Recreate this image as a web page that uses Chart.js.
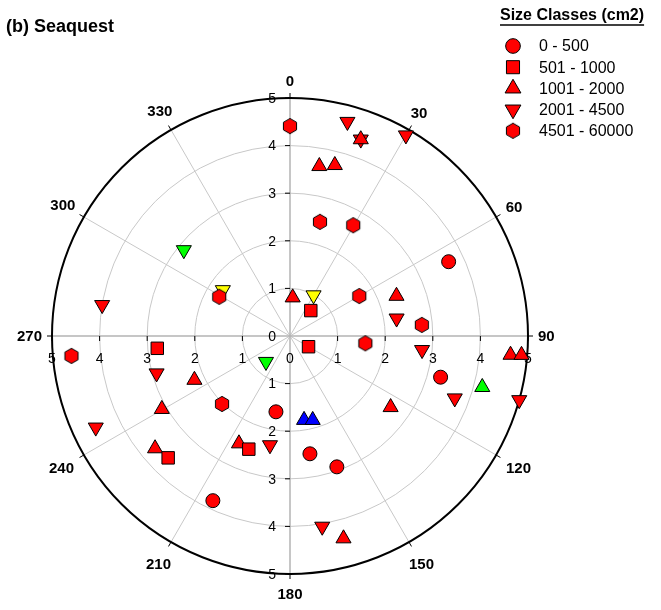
<!DOCTYPE html>
<html>
<head>
<meta charset="utf-8">
<script src="https://cdn.jsdelivr.net/npm/chart.js@4.4.0/dist/chart.umd.min.js"></script>
<style>
  body { margin: 0; background: #fff; }
  #wrap { width: 661px; height: 610px; position: relative; }
</style>
</head>
<body>
<div id="wrap"><canvas id="chart"></canvas></div>
<script>
// Polar scatter of sighting positions by size class - angle (deg, clockwise from top) and radius
const chartTitle = '(b) Seaquest';
const legendTitle = 'Size Classes (cm2)';
const sizeClasses = ['0 - 500', '501 - 1000', '1001 - 2000', '2001 - 4500', '4501 - 60000'];
const angleTicks = [0, 30, 60, 90, 120, 150, 180, 210, 240, 270, 300, 330];
const radiusTicks = [0, 1, 2, 3, 4, 5];

const colorMap = { red: '#ff0000', green: '#00ff00', yellow: '#ffff00', blue: '#0000ff' };

// 0 - 500 (circles)
const circleAngle  = [64.9, 105.3, 170.4, 160.3, 190.5, 205.1];
const circleRadius = [3.68, 3.28, 2.51, 2.92, 1.62, 3.82];
const circleColor  = ['red', 'red', 'red', 'red', 'red', 'red'];

// 501 - 1000 (squares)
const squareAngle  = [39.3, 120, 264.7, 200, 225];
const squareRadius = [0.69, 0.45, 2.80, 2.53, 3.62];
const squareColor  = ['red', 'red', 'red', 'red', 'red'];

// 1001 - 2000 (triangles up)
const upAngle  = [4, 19.8, 9.8, 14.7, 69.4, 104.9, 94.9, 94.7, 125.3, 170.5, 164.9, 165.2, 245.3, 240.3, 205.4, 230.2];
const upRadius = [0.81, 4.39, 3.62, 3.71, 2.39, 4.18, 4.65, 4.88, 2.59, 1.79, 1.83, 4.40, 2.21, 3.10, 2.50, 3.69];
const upColor  = ['red', 'red', 'red', 'red', 'red', 'green', 'red', 'red', 'red', 'blue', 'blue', 'red', 'red', 'red', 'red', 'red'];

// 2001 - 4500 (triangles down)
const downAngle  = [309, 304.4, 279.4, 30, 223, 15, 19.8, 30, 80.6, 96, 110.7, 105.6, 170.4, 254.4, 244.8, 190.4];
const downRadius = [2.87, 1.71, 4.00, 0.99, 0.74, 4.66, 4.39, 4.87, 2.27, 2.79, 3.70, 5.00, 4.06, 2.91, 4.51, 2.33];
const downColor  = ['green', 'yellow', 'red', 'yellow', 'green', 'red', 'red', 'red', 'red', 'red', 'red', 'red', 'red', 'red', 'red', 'red'];

// 4501 - 60000 (hexagons)
const hexAngle  = [0, 299, 14.7, 29.7, 60, 85.2, 95.5, 264.8, 225];
const hexRadius = [4.41, 1.70, 2.48, 2.68, 1.68, 2.78, 1.59, 4.61, 2.02];
const hexColor  = ['red', 'red', 'red', 'red', 'red', 'red', 'red', 'red', 'red'];

const FONT = "'Liberation Sans', Arial, Helvetica, sans-serif";

// hexagon marker as a small canvas (Chart.js has no hexagon point style)
function hexImage(fill) {
  const c = document.createElement('canvas');
  c.width = 18; c.height = 18;
  const g = c.getContext('2d');
  g.beginPath();
  for (let i = 0; i < 6; i++) {
    const a = Math.PI / 3 * i;
    const px = 9 + 7.6 * Math.sin(a), py = 9 - 7.6 * Math.cos(a);
    if (i === 0) g.moveTo(px, py); else g.lineTo(px, py);
  }
  g.closePath();
  g.fillStyle = fill; g.fill();
  g.strokeStyle = '#000'; g.lineWidth = 1; g.stroke();
  return c;
}

function toXY(a, r) {
  const t = a * Math.PI / 180;
  return { x: r * Math.sin(t), y: r * Math.cos(t) };
}

// marker definition per size class
const markers = [
  { angle: circleAngle, radius: circleRadius, color: circleColor, style: 'circle', rot: 0, size: 7 },
  { angle: squareAngle, radius: squareRadius, color: squareColor, style: 'rect', rot: 0, size: 8.8 },
  { angle: upAngle, radius: upRadius, color: upColor, style: 'triangle', rot: 0, size: 8.7 },
  { angle: downAngle, radius: downRadius, color: downColor, style: 'triangle', rot: 180, size: 8.7 },
  { angle: hexAngle, radius: hexRadius, color: hexColor, style: 'hexagon', rot: 0, size: 7.6 }
];

// draw order: first dataset ends up on top
const drawOrder = [1, 4, 0, 2, 3];
const datasets = [];
drawOrder.forEach(ci => {
  const m = markers[ci];
  const colors = [...new Set(m.color)];
  colors.forEach(col => {
    const pts = [];
    m.angle.forEach((a, i) => { if (m.color[i] === col) pts.push(toXY(a, m.radius[i])); });
    datasets.push({
      label: sizeClasses[ci] + ' ' + col,
      data: pts,
      pointStyle: m.style === 'hexagon' ? hexImage(colorMap[col]) : m.style,
      pointRotation: m.rot,
      pointRadius: m.size,
      pointBackgroundColor: colorMap[col],
      pointBorderColor: '#000',
      pointBorderWidth: 1,
      showLine: false,
      clip: false
    });
  });
});

const polarGrid = {
  id: 'polarGrid',
  beforeDatasetsDraw(chart) {
    const { ctx, scales: { x, y } } = chart;
    const cx = x.getPixelForValue(0), cy = y.getPixelForValue(0);
    const unit = x.getPixelForValue(1) - cx;
    const rMax = radiusTicks[radiusTicks.length - 1];
    const R = rMax * unit;
    ctx.save();
    // rings
    ctx.strokeStyle = '#c8c8c8';
    ctx.lineWidth = 1;
    radiusTicks.forEach(t => {
      if (t > 0 && t < rMax) { ctx.beginPath(); ctx.arc(cx, cy, t * unit, 0, 2 * Math.PI); ctx.stroke(); }
    });
    // spokes
    angleTicks.forEach(a => {
      if (a % 90 === 0) return;
      const t = a * Math.PI / 180;
      ctx.beginPath();
      ctx.moveTo(cx, cy);
      ctx.lineTo(cx + R * Math.sin(t), cy - R * Math.cos(t));
      ctx.stroke();
    });
    // main axes
    ctx.strokeStyle = '#b4b4b4';
    ctx.lineWidth = 1.5;
    ctx.beginPath();
    ctx.moveTo(cx - R, cy); ctx.lineTo(cx + R, cy);
    ctx.moveTo(cx, cy - R); ctx.lineTo(cx, cy + R);
    ctx.stroke();
    // outer circle
    ctx.strokeStyle = '#000';
    ctx.lineWidth = 2;
    ctx.beginPath(); ctx.arc(cx, cy, R, 0, 2 * Math.PI); ctx.stroke();
    // angle ticks + labels
    ctx.lineWidth = 1;
    ctx.fillStyle = '#000';
    ctx.font = 'bold 15px ' + FONT;
    ctx.textAlign = 'center';
    ctx.textBaseline = 'middle';
    angleTicks.forEach(a => {
      const t = a * Math.PI / 180, s = Math.sin(t), c = Math.cos(t);
      ctx.beginPath();
      ctx.moveTo(cx + R * s, cy - R * c);
      ctx.lineTo(cx + (R + 5) * s, cy - (R + 5) * c);
      ctx.stroke();
      const txt = String(a);
      const w = ctx.measureText(txt).width;
      const d = R + 10 + Math.abs(s) * w / 2 + Math.abs(c) * 7 + (c < 0 ? -c * 3 : 0);
      ctx.fillText(txt, cx + d * s, cy - d * c + 1);
    });
    // radial ticks along the axes
    ctx.font = '14px ' + FONT;
    radiusTicks.forEach(t => {
      const p = t * unit;
      if (t > 0) {
        ctx.beginPath();
        ctx.moveTo(cx - 5, cy - p); ctx.lineTo(cx, cy - p);
        ctx.moveTo(cx - 5, cy + p); ctx.lineTo(cx, cy + p);
        ctx.moveTo(cx - p, cy); ctx.lineTo(cx - p, cy + 5);
        ctx.moveTo(cx + p, cy); ctx.lineTo(cx + p, cy + 5);
        ctx.stroke();
      }
      ctx.textAlign = 'right';
      ctx.fillText(String(t), cx - 14, cy - p + 1);
      if (t > 0) ctx.fillText(String(t), cx - 14, cy + p + 1);
      ctx.textAlign = 'center';
      ctx.fillText(String(t), cx + p, cy + 23);
      if (t > 0) ctx.fillText(String(t), cx - p, cy + 23);
    });
    ctx.restore();
  },
  afterDraw(chart) {
    const ctx = chart.ctx;
    ctx.save();
    ctx.fillStyle = '#000';
    ctx.textBaseline = 'alphabetic';
    ctx.textAlign = 'left';
    ctx.font = 'bold 18px ' + FONT;
    ctx.fillText(chartTitle, 6, 32);
    // legend
    ctx.font = 'bold 16px ' + FONT;
    ctx.fillText(legendTitle, 500, 20);
    const lw = ctx.measureText(legendTitle).width;
    ctx.strokeStyle = '#000';
    ctx.lineWidth = 1.5;
    ctx.beginPath(); ctx.moveTo(500, 25); ctx.lineTo(500 + lw, 25); ctx.stroke();
    ctx.font = '16px ' + FONT;
    ctx.textBaseline = 'middle';
    sizeClasses.forEach((lab, i) => {
      const m = markers[i];
      const ly = 46 + i * 21.2;
      ctx.fillStyle = colorMap.red;
      ctx.strokeStyle = '#000';
      ctx.lineWidth = 1;
      const style = m.style === 'hexagon' ? hexImage(colorMap.red) : m.style;
      Chart.helpers.drawPoint(ctx, { pointStyle: style, rotation: m.rot, radius: m.size * 1.05, borderWidth: 1 }, 513, ly);
      ctx.fillStyle = '#000';
      ctx.fillText(lab, 539, ly + 1);
    });
    ctx.restore();
  }
};

new Chart(document.getElementById('chart'), {
  type: 'scatter',
  data: { datasets },
  options: {
    responsive: true,
    maintainAspectRatio: false,
    animation: false,
    events: [],
    layout: { padding: { left: 52, right: 133, top: 98, bottom: 36 } },
    scales: {
      x: { type: 'linear', min: -5, max: 5, display: false },
      y: { type: 'linear', min: -5, max: 5, display: false }
    },
    plugins: { legend: { display: false }, title: { display: false }, tooltip: { enabled: false } }
  },
  plugins: [polarGrid]
});
</script>
</body>
</html>
